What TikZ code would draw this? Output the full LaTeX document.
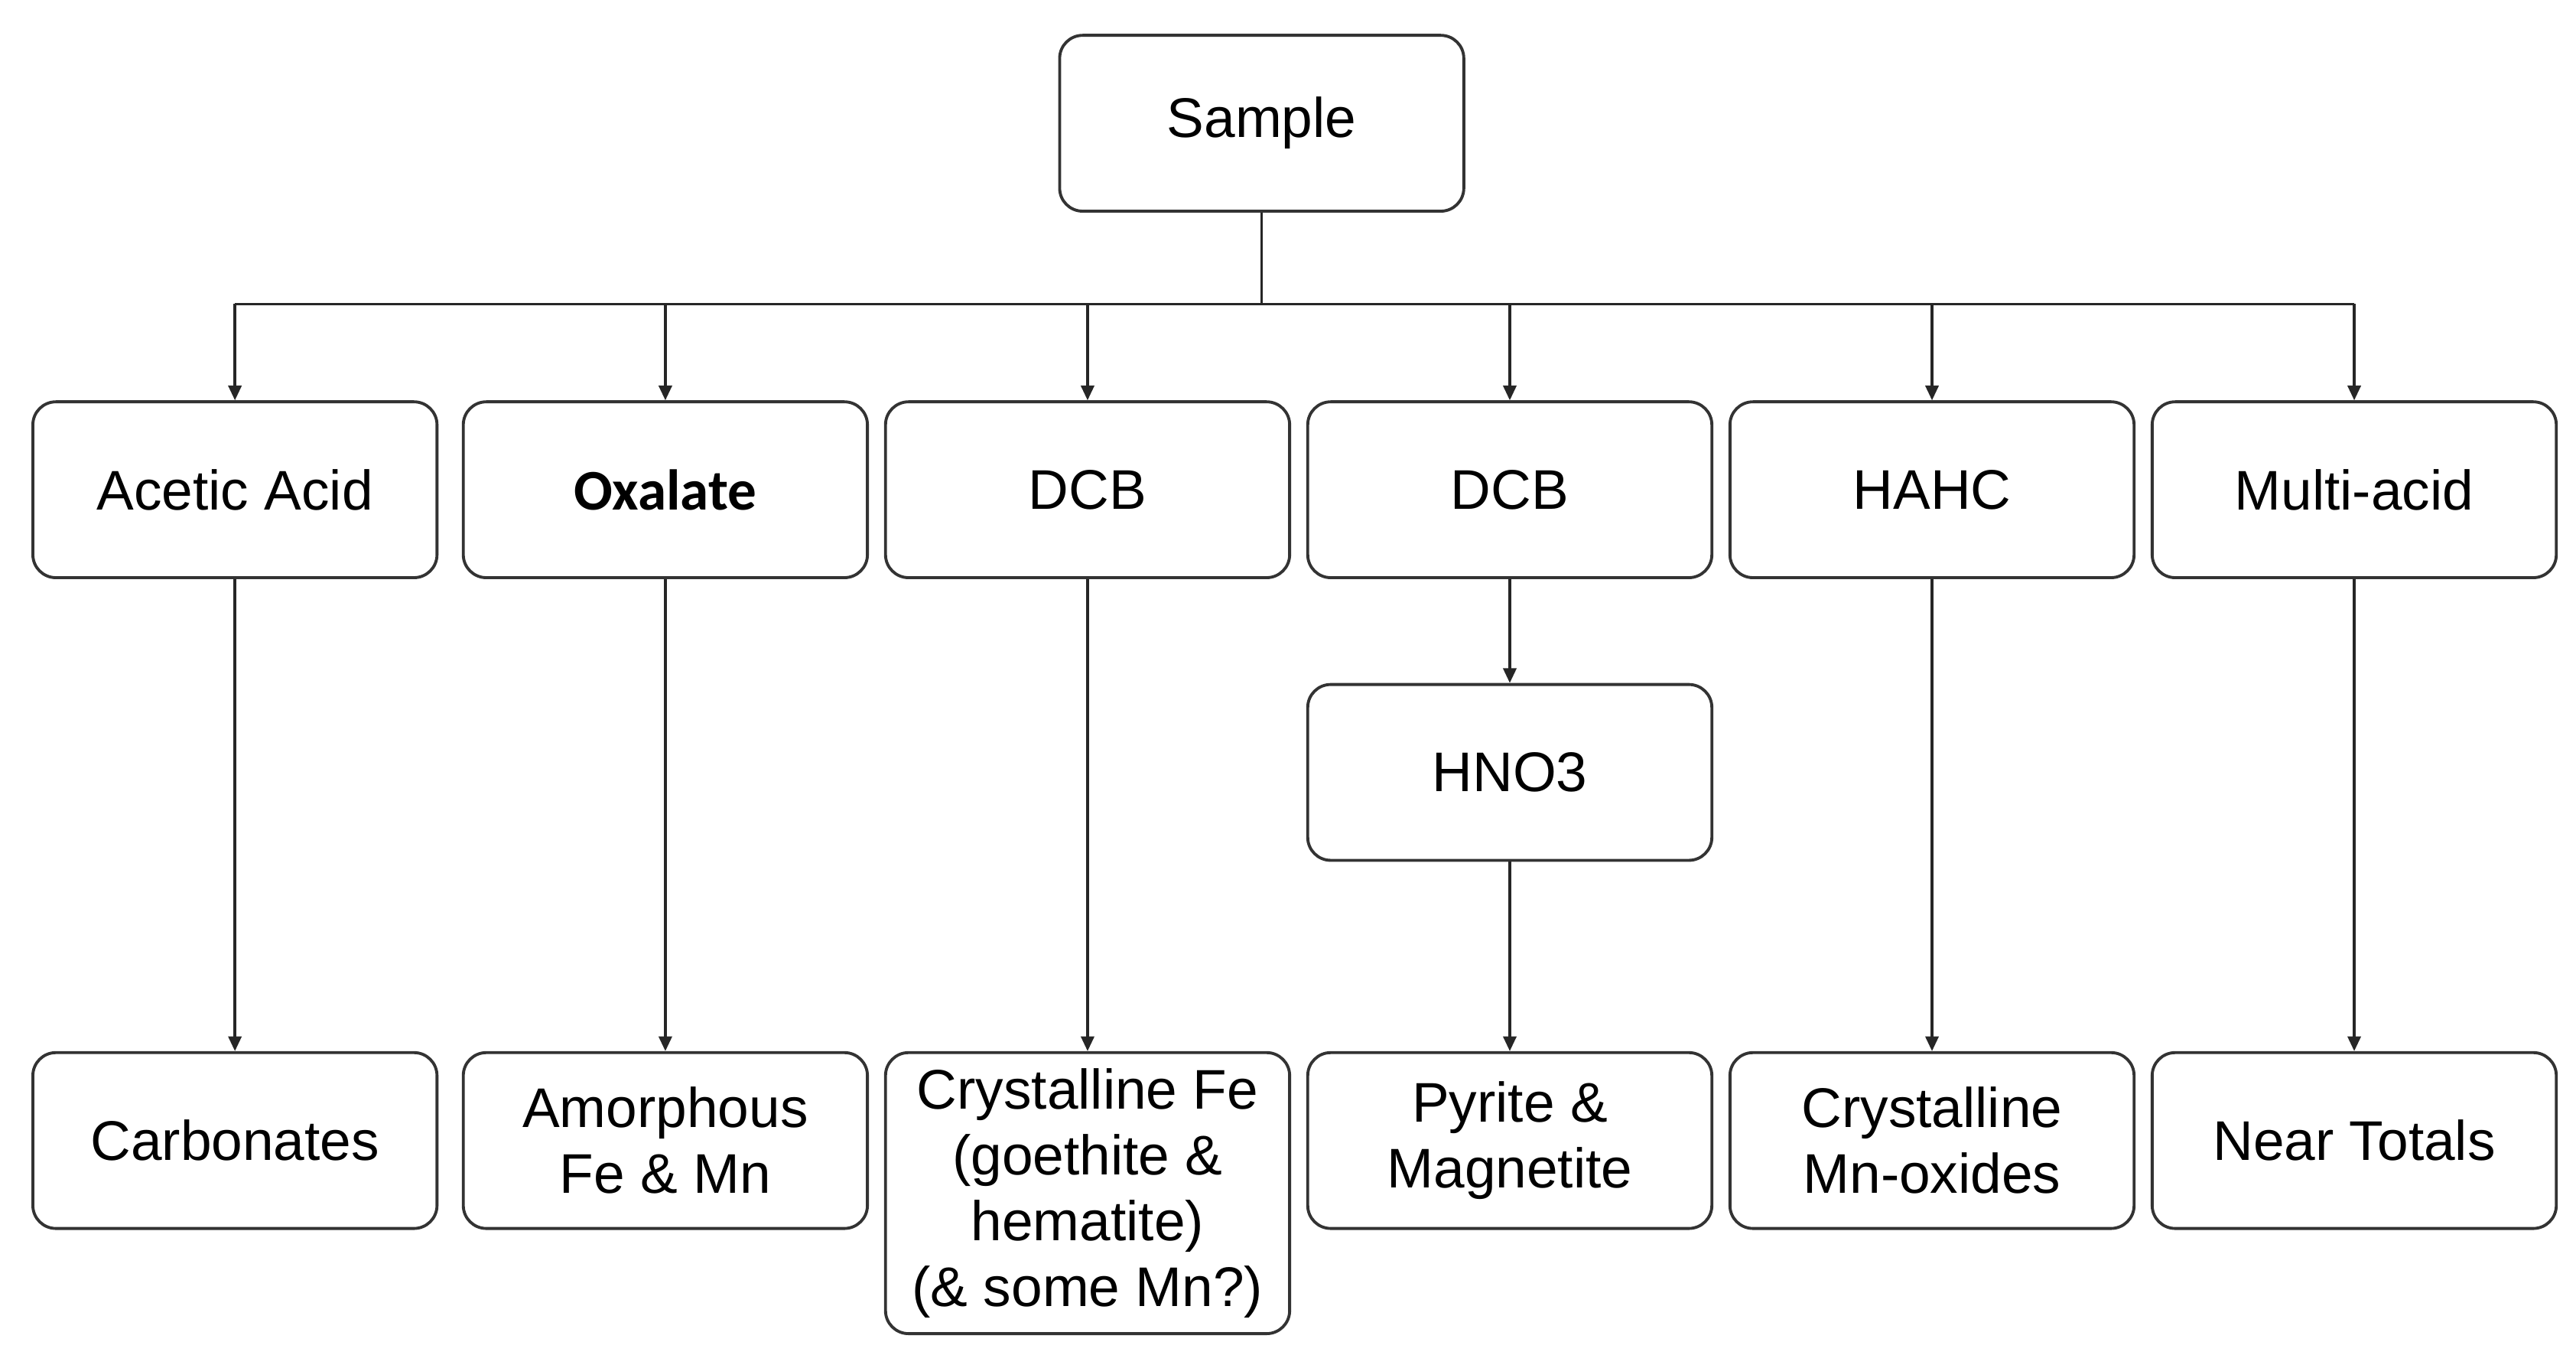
\documentclass[tikz,border=0pt]{standalone}
\usepackage{fontspec}
\setmainfont{Liberation Sans}
\newfontfamily\carl{Carlito}
\usetikzlibrary{arrows.meta}
\begin{document}
\begin{tikzpicture}[x=1pt,y=-1pt,
 box/.style={draw=black!80,line width=1.8pt,rounded corners=14pt,minimum width=246pt,minimum height=107pt,align=center,font=\fontsize{34}{40}\selectfont,inner sep=0pt},
 arr/.style={draw=black!85,line width=1.6pt,-{Triangle[length=9pt,width=8pt]}},
 ln/.style={draw=black!85,line width=1.6pt}]
\useasboundingbox (0,0) rectangle (1568,832);
\node[box] (s) at (768,75) {Sample};
\node[box] (a1) at (143,298) {Acetic Acid};
\node[box] (a2) at (405,298) {\carl\bfseries\fontsize{35}{40}\selectfont Oxalate};
\node[box] (a3) at (662,298) {DCB};
\node[box] (a4) at (919,298) {DCB};
\node[box] (a5) at (1176,298) {HAHC};
\node[box] (a6) at (1433,298) {Multi-acid};
\node[box] (h) at (919,470) {HNO3};
\node[box] (b1) at (143,694) {Carbonates};
\node[box] (b2) at (405,694) {Amorphous\\Fe \& Mn};
\node[box,minimum height=171pt] (b3) at (662,726) {Crystalline Fe\\(goethite \&\\hematite)\\(\& some Mn?)};
\node[box] (b4) at (919,694) {Pyrite \&\\Magnetite};
\node[box] (b5) at (1176,694) {Crystalline\\Mn-oxides};
\node[box] (b6) at (1433,694) {Near Totals};
\coordinate (bus) at (768,185);
\draw[ln] (s.south) -- (bus);
\draw[ln] (143,185) -- (1433,185);
\foreach \n in {a1,a2,a3,a4,a5,a6} \draw[arr] (\n.north |- bus) -- (\n.north);
\draw[arr] (a1) -- (b1);
\draw[arr] (a2) -- (b2);
\draw[arr] (a3) -- (b3);
\draw[arr] (a4) -- (h);
\draw[arr] (h) -- (b4);
\draw[arr] (a5) -- (b5);
\draw[arr] (a6) -- (b6);
\end{tikzpicture}
\end{document}
